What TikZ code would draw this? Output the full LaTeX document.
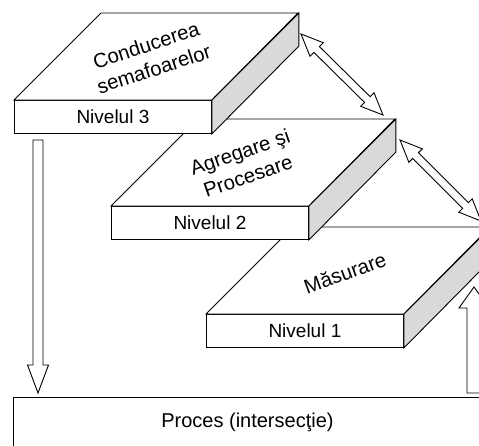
\documentclass[tikz,border=0pt]{standalone}
\usepackage{fontspec}
\setmainfont{Liberation Sans}
\usetikzlibrary{calc}

\newcommand\lvlfont{\fontsize{19}{22}\selectfont}
\newcommand\topfont{\fontsize{20.3}{25}\selectfont}
\newcommand\procfont{\fontsize{20}{24}\selectfont}

% one slab: front face as a node, then its top and right faces
\newcommand\slab[3]{%
  \node[front] (#1) at (#2) {#3};
  \path[topface] (#1.north west) -- ++(87,-87) -- ++(197,0) -- (#1.north east) -- cycle;
  \path[sideface] (#1.north east) -- ++(87,-87) -- ++(0,33) -- (#1.south east) -- cycle;
}

% hollow block arrow with one head: from, to, shaft half width, head half width, head length
\newcommand\blockarrow[5]{%
  \path[hollow] ($(#1)!#3!90:(#2)$)
    -- ($(#2)!#5!(#1)!#3!-90:(#1)$) -- ($(#2)!#5!(#1)!#4!-90:(#1)$)
    -- (#2)
    -- ($(#2)!#5!(#1)!#4!90:(#1)$) -- ($(#2)!#5!(#1)!#3!90:(#1)$)
    -- ($(#1)!#3!-90:(#2)$) -- cycle;
}

% hollow block arrow with a head at both ends
\newcommand\blockarrowboth[5]{%
  \path[hollow] (#1)
    -- ($(#1)!#5!(#2)!#4!90:(#2)$) -- ($(#1)!#5!(#2)!#3!90:(#2)$)
    -- ($(#2)!#5!(#1)!#3!-90:(#1)$) -- ($(#2)!#5!(#1)!#4!-90:(#1)$)
    -- (#2)
    -- ($(#2)!#5!(#1)!#4!90:(#1)$) -- ($(#2)!#5!(#1)!#3!90:(#1)$)
    -- ($(#1)!#5!(#2)!#3!-90:(#2)$) -- ($(#1)!#5!(#2)!#4!-90:(#2)$)
    -- cycle;
}

\begin{document}
\begin{tikzpicture}[x=1pt,y=-1pt,
  front/.style={draw, fill=white, line width=0.9pt, minimum width=197pt,
    minimum height=33pt, anchor=north west, inner sep=0pt, font=\lvlfont},
  topface/.style={draw, fill=white, line width=0.9pt, line join=miter},
  sideface/.style={draw, fill=black!15, line width=0.9pt, line join=miter},
  hollow/.style={draw, fill=white, line width=0.9pt, line join=miter},
  toplabel/.style={align=center, inner sep=0pt, font=\topfont}]

\useasboundingbox (0,0) rectangle (479,445);
\clip (0,0) rectangle (479,445);

% process box
\node[draw, line width=0.9pt, minimum width=468pt, minimum height=50pt,
  anchor=north west, inner sep=0pt, font=\procfont]
  (proc) at (13,397) {Proces (intersecţie)};

% the three levels, back to front
\slab{lvl1}{206,314}{Nivelul 1}
\node[toplabel, rotate=20] (t1) at (345,273) {Măsurare};

\slab{lvl2}{111,206}{Nivelul 2}
\node[toplabel, rotate=19] (t2) at (244,164) {Agregare şi\\Procesare};

\slab{lvl3}{14,100}{Nivelul 3}
\node[toplabel, rotate=18] (t3) at (150,57) {Conducerea\\semafoarelor};

% arrow ends
\coordinate (dtop) at (38,140);
\coordinate (dbot) at (38,393);
\coordinate (ubot) at (474,393);
\coordinate (utop) at (474,287);
\coordinate (a32) at (301,34);
\coordinate (a23) at (383,115);
\coordinate (a21) at (400,140);
\coordinate (a12) at (481,221);

% command down to the process, measurement up from it
\blockarrow{dtop}{dbot}{5pt}{10.5pt}{28pt}
\blockarrow{ubot}{utop}{7pt}{15pt}{21pt}

% exchange between neighbouring levels
\blockarrowboth{a32}{a23}{4pt}{9.5pt}{22pt}
\blockarrowboth{a21}{a12}{4pt}{9.5pt}{22pt}

\end{tikzpicture}
\end{document}
